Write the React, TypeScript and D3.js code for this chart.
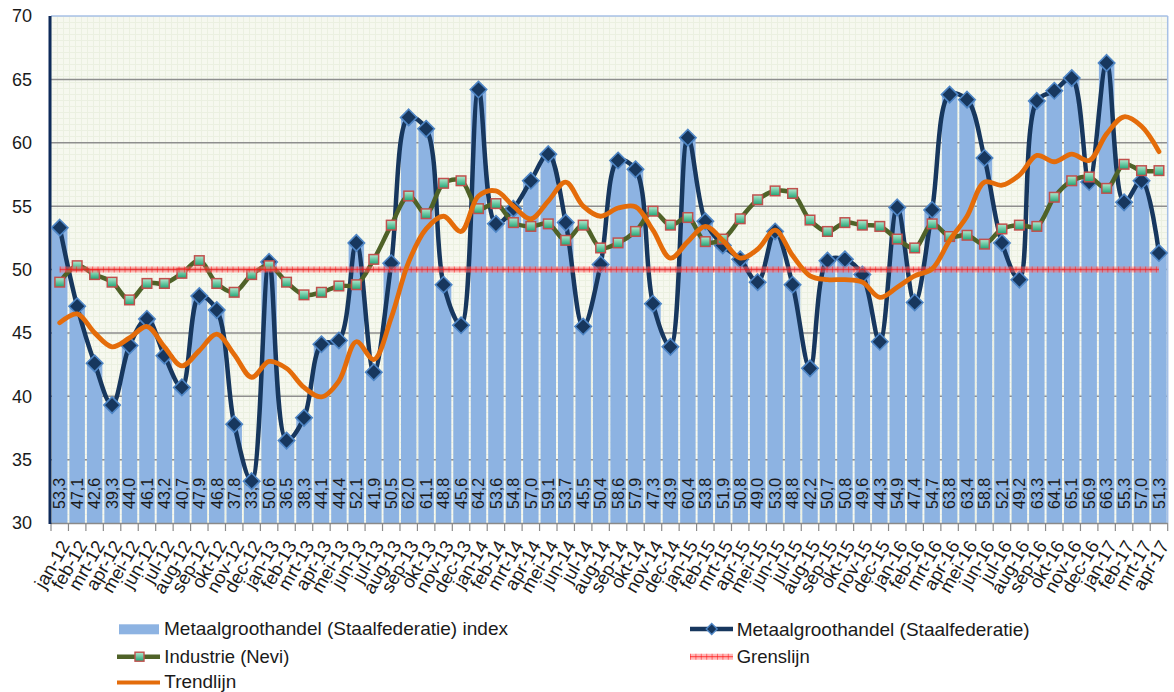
import React from 'react';
import * as d3 from 'd3';

const months = [
  'jan-12','feb-12','mrt-12','apr-12','mei-12','jun-12','jul-12','aug-12','sep-12','okt-12','nov-12','dec-12',
  'jan-13','feb-13','mrt-13','apr-13','mei-13','jun-13','jul-13','aug-13','sep-13','okt-13','nov-13','dec-13',
  'jan-14','feb-14','mrt-14','apr-14','mei-14','jun-14','jul-14','aug-14','sep-14','okt-14','nov-14','dec-14',
  'jan-15','feb-15','mrt-15','apr-15','mei-15','jun-15','jul-15','aug-15','sep-15','okt-15','nov-15','dec-15',
  'jan-16','feb-16','mrt-16','apr-16','mei-16','jun-16','jul-16','aug-16','sep-16','okt-16','nov-16','dec-16',
  'jan-17','feb-17','mrt-17','apr-17'
];

// Metaalgroothandel (Staalfederatie) index
const staal = [
  53.3, 47.1, 42.6, 39.3, 44.0, 46.1, 43.2, 40.7, 47.9, 46.8, 37.8, 33.3,
  50.6, 36.5, 38.3, 44.1, 44.4, 52.1, 41.9, 50.5, 62.0, 61.1, 48.8, 45.6,
  64.2, 53.6, 54.8, 57.0, 59.1, 53.7, 45.5, 50.4, 58.6, 57.9, 47.3, 43.9,
  60.4, 53.8, 51.9, 50.8, 49.0, 53.0, 48.8, 42.2, 50.7, 50.8, 49.6, 44.3,
  54.9, 47.4, 54.7, 63.8, 63.4, 58.8, 52.1, 49.2, 63.3, 64.1, 65.1, 56.9,
  66.3, 55.3, 57.0, 51.3
];

// Industrie (Nevi)
const nevi = [
  49.0, 50.3, 49.6, 49.0, 47.6, 48.9, 48.9, 49.7, 50.7, 48.9, 48.2, 49.6,
  50.3, 49.0, 48.0, 48.2, 48.7, 48.8, 50.8, 53.5, 55.8, 54.4, 56.8, 57.0,
  54.8, 55.2, 53.7, 53.4, 53.6, 52.3, 53.5, 51.7, 52.1, 53.0, 54.6, 53.5,
  54.1, 52.2, 52.4, 54.0, 55.5, 56.2, 56.0, 53.9, 53.0, 53.7, 53.5, 53.4,
  52.4, 51.7, 53.6, 52.6, 52.7, 52.0, 53.2, 53.5, 53.4, 55.7, 57.0, 57.3,
  56.4, 58.3, 57.8, 57.8
];

// Trendlijn
const trend = [
  45.8, 46.5, 45.0, 43.9, 44.6, 45.5, 43.9, 42.4, 43.6, 44.9, 43.3, 41.5,
  42.75, 42.2, 40.7, 39.95, 41.2, 44.3, 42.9, 46.2, 50.6, 53.2, 54.2, 53.0,
  55.8, 56.2, 55.0, 54.0, 55.4, 56.9, 55.0, 54.2, 54.85, 54.95, 53.1, 50.9,
  52.2, 53.4, 52.3, 50.9, 51.6, 53.1, 51.1, 49.5, 49.2, 49.2, 49.0, 47.8,
  48.6, 49.5, 50.05, 52.3, 54.2, 56.9, 56.65, 57.45, 59.0, 58.5, 59.1, 58.6,
  60.7, 62.05, 61.3, 59.3
];

const grenswaarde = 50;
const yTicks = [30, 35, 40, 45, 50, 55, 60, 65, 70];

const legendLabels = [
  'Metaalgroothandel (Staalfederatie) index',
  'Metaalgroothandel (Staalfederatie)',
  'Industrie (Nevi)',
  'Grenslijn',
  'Trendlijn'
];

const W = 1174;
const H = 692;
const L = 51;
const R = 1167.7;
const T = 16;
const B = 523;

const FONT = "'Liberation Sans', Arial, sans-serif";

export default function App() {
  const x = d3.scaleBand<string>().domain(months).range([L, R]).padding(0);
  const y = d3.scaleLinear().domain([30, 70]).range([B, T]);
  const bw = x.bandwidth();
  const cx = (i: number) => (x(months[i]) as number) + bw / 2;
  const curve = d3.curveCatmullRom.alpha(0.5);
  const lineOf = (vals: number[]) =>
    d3.line<number>().x((_, i) => cx(i)).y((v) => y(v)).curve(curve)(vals) || '';
  const grensPath = d3.line<number>().x((_, i) => cx(i)).y(() => y(grenswaarde))(months.map(() => grenswaarde)) || '';

  const diamond = (s: number) => `M0,${-s}L${s},0L0,${s}L${-s},0Z`;
  const fmt = (v: number) => v.toFixed(1).replace('.', ',');

  const navy = '#17375e';
  const olive = '#4f6228';
  const orange = '#e46c0a';
  const barCol = '#8db3e2';

  return (
    <svg width={W} height={H} style={{ position: 'absolute', left: 0, top: 0, display: 'block' }} fontFamily={FONT}>
      <defs>
        <pattern id="minor" width="6" height="6" patternUnits="userSpaceOnUse" x={L} y={T}>
          <rect width="6" height="6" fill="#f6f8ef" />
          <path d="M0,0.5H6M0.5,0V6" stroke="#ebf0e1" strokeWidth="1" />
        </pattern>
        <linearGradient id="sqfill" x1="0" y1="0" x2="0" y2="1">
          <stop offset="0" stopColor="#b5ead0" />
          <stop offset="1" stopColor="#1fa474" />
        </linearGradient>
        <clipPath id="plotclip">
          <rect x={L} y={T - 10} width={R - L + 10} height={B - T + 10} />
        </clipPath>
      </defs>

      <rect x={0} y={0} width={W} height={H} fill="#ffffff" />
      {/* plot background */}
      <rect x={L} y={T} width={R - L} height={B - T} fill="url(#minor)" />

      {/* gridlines */}
      {yTicks.filter((t) => t > 30 && t < 70).map((t) => (
        <line key={'g' + t} x1={L} x2={R} y1={y(t)} y2={y(t)} stroke="#8e8e8e" strokeWidth={1.5} />
      ))}

      {/* bars */}
      {staal.map((v, i) => (
        <rect key={'b' + i} x={(x(months[i]) as number) + 1} y={y(v)} width={bw - 2} height={B - y(v)} fill={barCol} />
      ))}

      {/* plot border top/right */}
      <line x1={L} x2={R} y1={T} y2={T} stroke="#a7c0e6" strokeWidth={1.5} />
      <line x1={R} x2={R} y1={T} y2={B} stroke="#a7c0e6" strokeWidth={1.5} />

      {/* bottom axis */}
      <line x1={L} x2={R} y1={B + 0.5} y2={B + 0.5} stroke="#8a8a8a" strokeWidth={1.5} />
      {months.map((m, i) => (
        <line key={'t' + i} x1={x(m) as number} x2={x(m) as number} y1={B} y2={B + 8} stroke="#8a8a8a" strokeWidth={1.2} />
      ))}
      <line x1={R} x2={R} y1={B} y2={B + 8} stroke="#8a8a8a" strokeWidth={1.2} />

      {/* left axis */}
      <line x1={L - 1} x2={L - 1} y1={T} y2={B + 1} stroke="#0e2a5a" strokeWidth={3} />

      {/* y tick labels */}
      {yTicks.map((t) => (
        <text key={'yl' + t} x={32} y={y(t)} dy="0.36em" textAnchor="end" fontSize={18} fill="#1a1a1a">{t}</text>
      ))}

      {/* x tick labels */}
      {months.map((m, i) => (
        <text key={'xl' + i} transform={`translate(${cx(i) + 5},${542}) rotate(-60)`} dy="0.36em" textAnchor="end" fontSize={18.5} fill="#1a1a1a">{m}</text>
      ))}

      {/* value labels */}
      {staal.map((v, i) => (
        <text key={'vl' + i} transform={`translate(${cx(i)},${509}) rotate(-90)`} dy="0.36em" textAnchor="start" fontSize={16} fill="#1a1a1a">{fmt(v)}</text>
      ))}

      <g clipPath="url(#plotclip)">
        {/* Staalfederatie line */}
        <path d={lineOf(staal)} fill="none" stroke={navy} strokeWidth={4.5} strokeLinejoin="round" />
        {staal.map((v, i) => (
          <path key={'d' + i} d={diamond(8.2)} transform={`translate(${cx(i)},${y(v)})`} fill={navy} stroke="#4f86c6" strokeWidth={1.6} />
        ))}

        {/* Industrie line */}
        <path d={lineOf(nevi)} fill="none" stroke={olive} strokeWidth={4.5} strokeLinejoin="round" />
        {nevi.map((v, i) => (
          <rect key={'s' + i} x={cx(i) - 4.8} y={y(v) - 4.8} width={9.6} height={9.6} fill="url(#sqfill)" stroke="#c0504d" strokeWidth={1.5} />
        ))}

        {/* Grenslijn */}
        <path d={grensPath} fill="none" stroke="#ff7070" strokeOpacity={0.5} strokeWidth={6} />
        <path d={grensPath} fill="none" stroke="#ff0000" strokeOpacity={0.55} strokeWidth={1.3} />
        <path d={grensPath} fill="none" stroke="#ff1010" strokeOpacity={0.5} strokeWidth={6} strokeDasharray="1 4.4" />

        {/* Trendlijn */}
        <path d={lineOf(trend)} fill="none" stroke={orange} strokeWidth={4.8} strokeLinejoin="round" strokeLinecap="round" />
      </g>

      {/* Legend */}
      <g fontSize={18.5} fill="#1a1a1a">
        <rect x={119} y={624.3} width={40} height={10} fill={barCol} />
        <text x={164} y={635} textLength={344} lengthAdjust="spacingAndGlyphs">{legendLabels[0]}</text>

        <line x1={690} x2={733} y1={629} y2={629} stroke={navy} strokeWidth={4.5} />
        <path d={diamond(5.5)} transform="translate(711.7,629)" fill={navy} stroke="#4f86c6" strokeWidth={1.3} />
        <text x={736.7} y={635.7} textLength={293} lengthAdjust="spacingAndGlyphs">{legendLabels[1]}</text>

        <line x1={117} x2={160} y1={656.7} y2={656.7} stroke={olive} strokeWidth={4.5} />
        <rect x={135} y={652.2} width={9} height={9} fill="url(#sqfill)" stroke="#c0504d" strokeWidth={1.4} />
        <text x={164.3} y={663.3} textLength={125} lengthAdjust="spacingAndGlyphs">{legendLabels[2]}</text>

        <line x1={690} x2={733} y1={656.7} y2={656.7} stroke="#ff7070" strokeOpacity={0.5} strokeWidth={6} />
        <line x1={690} x2={733} y1={656.7} y2={656.7} stroke="#ff0000" strokeOpacity={0.55} strokeWidth={1.3} />
        <line x1={690} x2={733} y1={656.7} y2={656.7} stroke="#ff1010" strokeOpacity={0.5} strokeWidth={6} strokeDasharray="1 4.4" />
        <text x={736.7} y={663.3} textLength={73} lengthAdjust="spacingAndGlyphs">{legendLabels[3]}</text>

        <line x1={117} x2={160} y1={682.5} y2={682.5} stroke={orange} strokeWidth={4.2} />
        <text x={164.3} y={688} fontSize={18} textLength={72} lengthAdjust="spacingAndGlyphs">{legendLabels[4]}</text>
      </g>
    </svg>
  );
}
